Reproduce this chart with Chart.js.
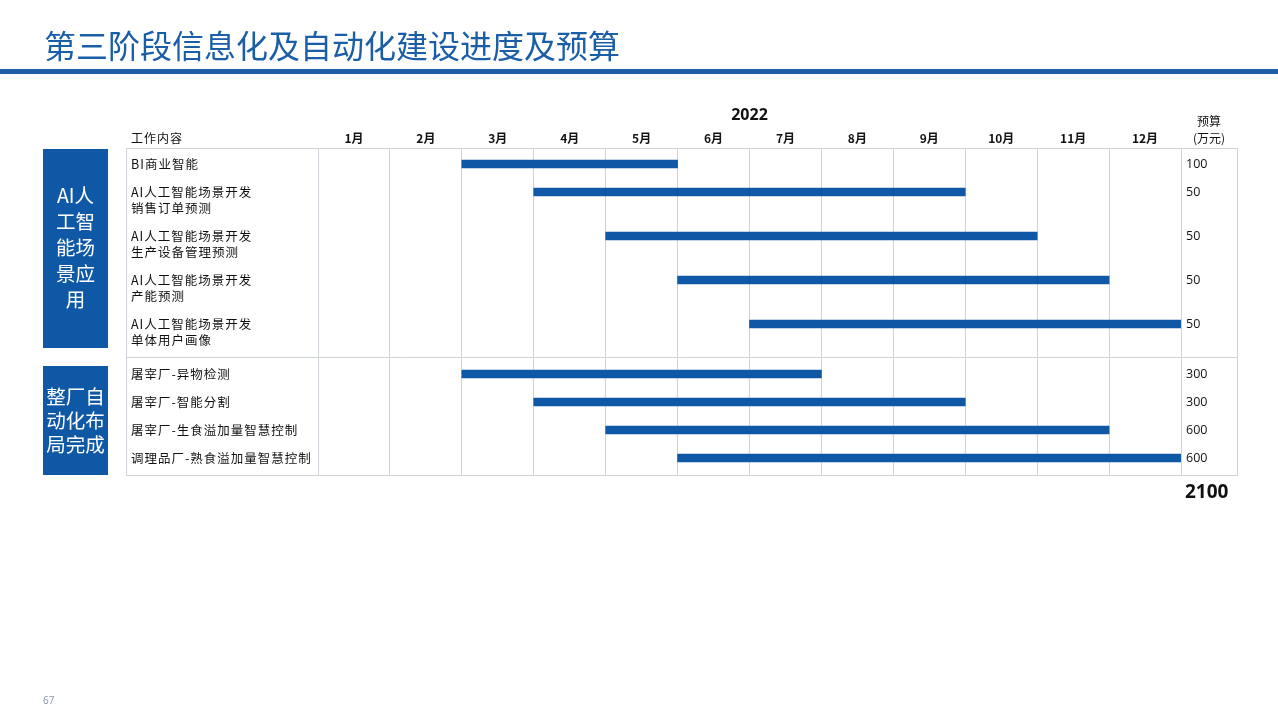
<!DOCTYPE html>
<html>
<head>
<meta charset="utf-8">
<script src="https://cdn.jsdelivr.net/npm/chart.js@4"></script>
<style>
  html, body { margin: 0; padding: 0; background: #fff; }
  #gantt { display: block; }
</style>
</head>
<body>
<canvas id="gantt" width="1278" height="720"></canvas>
<script>
// ── data ──
const title = '第三阶段信息化及自动化建设进度及预算';
const year = '2022';
const months = ['1月','2月','3月','4月','5月','6月','7月','8月','9月','10月','11月','12月'];
const tasks = [
  ['BI商业智能'],
  ['AI人工智能场景开发', '销售订单预测'],
  ['AI人工智能场景开发', '生产设备管理预测'],
  ['AI人工智能场景开发', '产能预测'],
  ['AI人工智能场景开发', '单体用户画像'],
  ['屠宰厂-异物检测'],
  ['屠宰厂-智能分割'],
  ['屠宰厂-生食溢加量智慧控制'],
  ['调理品厂-熟食溢加量智慧控制'],
];
const taskGroup  = [0, 0, 0, 0, 0, 1, 1, 1, 1];
const startMonth = [3, 4, 5, 6, 7, 3, 4, 5, 6];   // first month (1-based)
const endMonth   = [5, 9, 10, 11, 12, 7, 9, 11, 12]; // last month, inclusive
const budget     = [100, 50, 50, 50, 50, 300, 300, 600, 600];
const groupNames = [['AI人', '工智', '能场', '景应', '用'], ['整厂自', '动化布', '局完成']];
const budgetHead = ['预算', '(万元)'];
const pageNo = '67';

// ── row layout (rows with two label lines are taller) ──
const ROW_H = 28, LINE_H = 16, GROUP_GAP = 6, TOP = 16, BOTTOM = 17;
const rowPos = [];
let acc = TOP;
tasks.forEach((t, i) => {
  if (i > 0 && taskGroup[i] !== taskGroup[i - 1]) acc += GROUP_GAP;
  rowPos.push(acc);
  acc += ROW_H + LINE_H * (t.length - 1);
});
const tableH = acc - ROW_H + BOTTOM;

const BLUE = '#0f58a6';
const GRID = '#cfd4da';
const CJK = '"Noto Sans CJK SC", "Noto Sans", sans-serif';
const LAT = '"Open Sans", "Noto Sans", sans-serif';

const TABLE_L = 126, TABLE_R = 1237, TEXT_COL = 318, MONTH_END = 1181;
const TABLE_T = 148;

const tablePlugin = {
  id: 'tableDecor',
  beforeDatasetsDraw(chart) {
    const { ctx, scales: { y } } = chart;
    const top = y.getPixelForValue(0), bottom = y.getPixelForValue(tableH);
    ctx.save();
    ctx.strokeStyle = GRID;
    ctx.lineWidth = 1;
    ctx.strokeRect(TABLE_L + 0.5, top + 0.5, TABLE_R - TABLE_L, bottom - top);
    ctx.beginPath();
    ctx.moveTo(TEXT_COL + 0.5, top);
    ctx.lineTo(TEXT_COL + 0.5, bottom);
    ctx.stroke();
    // group separator
    for (let i = 1; i < tasks.length; i++) {
      if (taskGroup[i] !== taskGroup[i - 1]) {
        const prevEnd = rowPos[i - 1] + LINE_H * (tasks[i - 1].length - 1);
        const sy = Math.round(y.getPixelForValue((prevEnd + rowPos[i]) / 2)) + 0.5;
        ctx.beginPath();
        ctx.moveTo(TABLE_L, sy);
        ctx.lineTo(TABLE_R, sy);
        ctx.stroke();
      }
    }
    ctx.restore();
  },
  afterDraw(chart) {
    const { ctx, scales: { x, y } } = chart;
    ctx.save();
    // title + rule
    ctx.fillStyle = '#1b5ea8';
    ctx.font = `400 32px ${CJK}`;
    ctx.textBaseline = 'middle';
    ctx.textAlign = 'left';
    ctx.fillText(title, 44, 46);
    ctx.fillStyle = '#1e5fa6';
    ctx.fillRect(0, 69, 1278, 5);

    // headers
    ctx.fillStyle = '#111';
    ctx.font = `700 16px ${LAT}`;
    ctx.textAlign = 'center';
    ctx.fillText(year, (x.getPixelForValue(0) + x.getPixelForValue(12)) / 2, 115);
    ctx.font = `700 12px ${CJK}`;
    months.forEach((m, i) => ctx.fillText(m, x.getPixelForValue(i + 0.5), 138));
    ctx.font = `400 12px ${CJK}`;
    ctx.fillText(budgetHead[0], 1209, 121);
    ctx.fillText(budgetHead[1], 1209, 138);
    ctx.textAlign = 'left';
    ctx.letterSpacing = '1px';
    ctx.fillText('工作内容', 131, 138);

    // task labels and budgets
    ctx.font = `400 12.5px ${CJK}`;
    tasks.forEach((lines, i) => {
      const py = y.getPixelForValue(rowPos[i]);
      lines.forEach((l, k) => ctx.fillText(l, 131, py + k * LINE_H));
    });
    ctx.letterSpacing = '0px';
    ctx.font = `400 12.5px ${LAT}`;
    budget.forEach((b, i) => ctx.fillText(String(b), 1186, y.getPixelForValue(rowPos[i])));
    ctx.font = `700 19px ${LAT}`;
    ctx.fillText(String(budget.reduce((a, b) => a + b, 0)), 1185, 493);

    // group boxes
    const groupBounds = [[149, 348], [366, 475]];
    groupNames.forEach((lines, g) => {
      const [t, b] = groupBounds[g];
      ctx.fillStyle = BLUE;
      ctx.fillRect(43, t, 65, b - t);
      ctx.fillStyle = '#fff';
      ctx.textAlign = 'center';
      ctx.font = `400 19.5px ${CJK}`;
      const lh = g === 0 ? 26 : 24;
      const cy = (t + b) / 2 + (g === 0 ? -1 : 0);
      lines.forEach((l, k) => {
        ctx.fillText(l, 75.5, cy + (k - (lines.length - 1) / 2) * lh);
      });
    });

    // page number
    ctx.fillStyle = '#8a96a8';
    ctx.textAlign = 'left';
    ctx.font = `400 10px ${LAT}`;
    ctx.fillText(pageNo, 43, 701);
    ctx.restore();
  }
};

new Chart(document.getElementById('gantt'), {
  type: 'bar',
  data: {
    datasets: [{
      data: tasks.map((t, i) => ({ x: [startMonth[i] - 1, endMonth[i]], y: rowPos[i] })),
      backgroundColor: BLUE,
      borderWidth: 0,
      barThickness: 8,
    }],
  },
  options: {
    indexAxis: 'y',
    responsive: false,
    animation: false,
    events: [],
    layout: { padding: { left: TEXT_COL, right: 1278 - MONTH_END, top: TABLE_T, bottom: 720 - TABLE_T - tableH } },
    plugins: { legend: { display: false }, tooltip: { enabled: false } },
    scales: {
      x: {
        type: 'linear',
        min: 0,
        max: 12,
        offset: false,
        ticks: { display: false, stepSize: 1 },
        grid: { color: GRID, drawTicks: false, offset: false },
        border: { display: false },
      },
      y: {
        type: 'linear',
        reverse: true,
        min: 0,
        max: tableH,
        offset: false,
        display: false,
      },
    },
  },
  plugins: [tablePlugin],
});
</script>
</body>
</html>
